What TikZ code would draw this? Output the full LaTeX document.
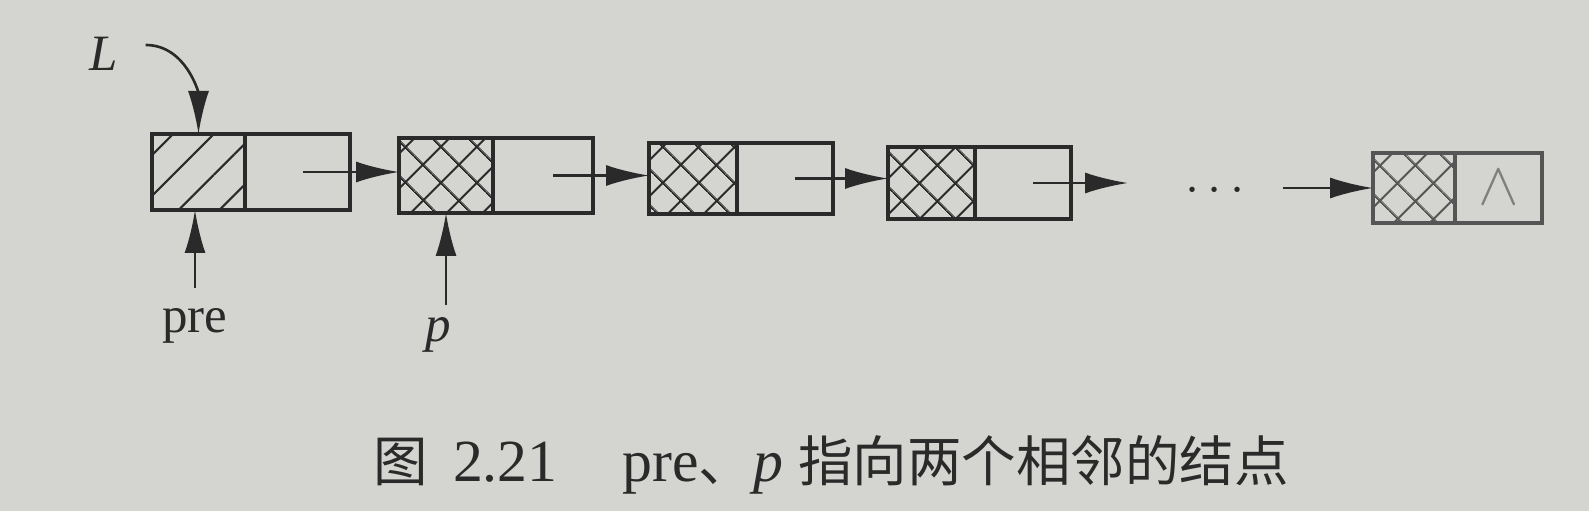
\documentclass[tikz,border=0pt]{standalone}
\usepackage{fontspec}
\setmainfont{Liberation Serif}
\newfontfamily\cjk{Noto Sans CJK SC}
\newcommand{\capcjk}{\cjk\fontsize{15.5}{20}\selectfont}
\usetikzlibrary{positioning,patterns.meta,arrows.meta}
\definecolor{paper}{RGB}{212,212,209}
\definecolor{ink}{RGB}{42,42,42}
\tikzset{
  cell/.style={draw=ink, line width=0.9pt, shape=rectangle, inner sep=0pt,
  outer sep=0pt, minimum height=0.75cm},
  headcell/.style={cell, pattern={Lines[angle=45, distance=8.2pt, line width=0.6pt]},
  pattern color=ink},
  datacell/.style={cell, pattern={Hatch[angle=45, distance=7.4pt, line width=0.6pt]},
  pattern color=ink},
  link/.style={-{Latex[length=4.3mm, width=2.1mm]}, draw=ink, line width=0.75pt},
  lbl/.style={font=\fontsize{14.5}{16}\selectfont, text=ink}
}
\begin{document}
\begin{tikzpicture}
\fill[paper] (0,0) rectangle (15.89,5.11);
\useasboundingbox (0,0) rectangle (15.89,5.11);

\node (d1) [headcell, minimum width=0.93cm, minimum height=0.76cm] at (1.985,3.39) {};
\node (n1) [cell, minimum width=1.05cm, minimum height=0.76cm, right=0pt of d1] {};
\node (d2) [datacell, minimum width=0.94cm, minimum height=0.75cm] at (4.46,3.355) {};
\node (n2) [cell, minimum width=1.00cm, minimum height=0.75cm, right=0pt of d2] {};
\node (d3) [datacell, minimum width=0.88cm, minimum height=0.71cm] at (6.93,3.325) {};
\node (n3) [cell, minimum width=0.96cm, minimum height=0.71cm, right=0pt of d3] {};
\node (d4) [datacell, minimum width=0.87cm, minimum height=0.72cm] at (9.315,3.28) {};
\node (n4) [cell, minimum width=0.96cm, minimum height=0.72cm, right=0pt of d4] {};
\node (dl) [datacell, draw=ink!80, pattern color=ink!80, minimum width=0.82cm,
  minimum height=0.70cm] at (14.14,3.23) {};
\node (nl) [cell, draw=ink!80, minimum width=0.87cm, minimum height=0.70cm,
  right=0pt of dl, text=ink!60, font=\fontsize{18}{20}\selectfont] {$\wedge$};

\coordinate (c4) at (11.28,3.28);
\node (dots) [lbl] at (12.15,3.20) {$\cdots$};
\coordinate (c5) at (12.83,3.23);

\node (L) [lbl] at (1.04,4.57) {\textit{L}};
\node (pre) [lbl] at (1.95,1.85) {pre};
\node (p) [lbl] at (4.38,1.76) {\textit{p}};

\node (cap) [font=\fontsize{17}{20}\selectfont, text=ink] at (8.31,0.46)
  {{\capcjk 图}\hspace{0.25cm}2.21\hspace{0.65cm}pre{\capcjk 、}\textit{p}\hspace{0.15cm}{\capcjk 指向两个相邻的结点}};

\draw[link] ([xshift=1.5mm,yshift=0.9mm]L.east) to[out=0, in=90] (d1.north);
\draw[link, shorten <=0.8mm] (pre.north) -- (pre.north |- d1.south);
\draw[link] (d2.south |- p.north) -- (d2.south);
\draw[link] ([xshift=0.5mm]n1.center) -- (n1.center -| d2.west);
\draw[link] ([xshift=1mm]n2.center) -- (n2.center -| d3.west);
\draw[link] ([xshift=1mm]n3.center) -- (n3.center -| d4.west);
\draw[link] ([xshift=1mm]n4.center) -- (c4);
\draw[link] (c5) -- (dl.west);

\end{tikzpicture}
\end{document}
